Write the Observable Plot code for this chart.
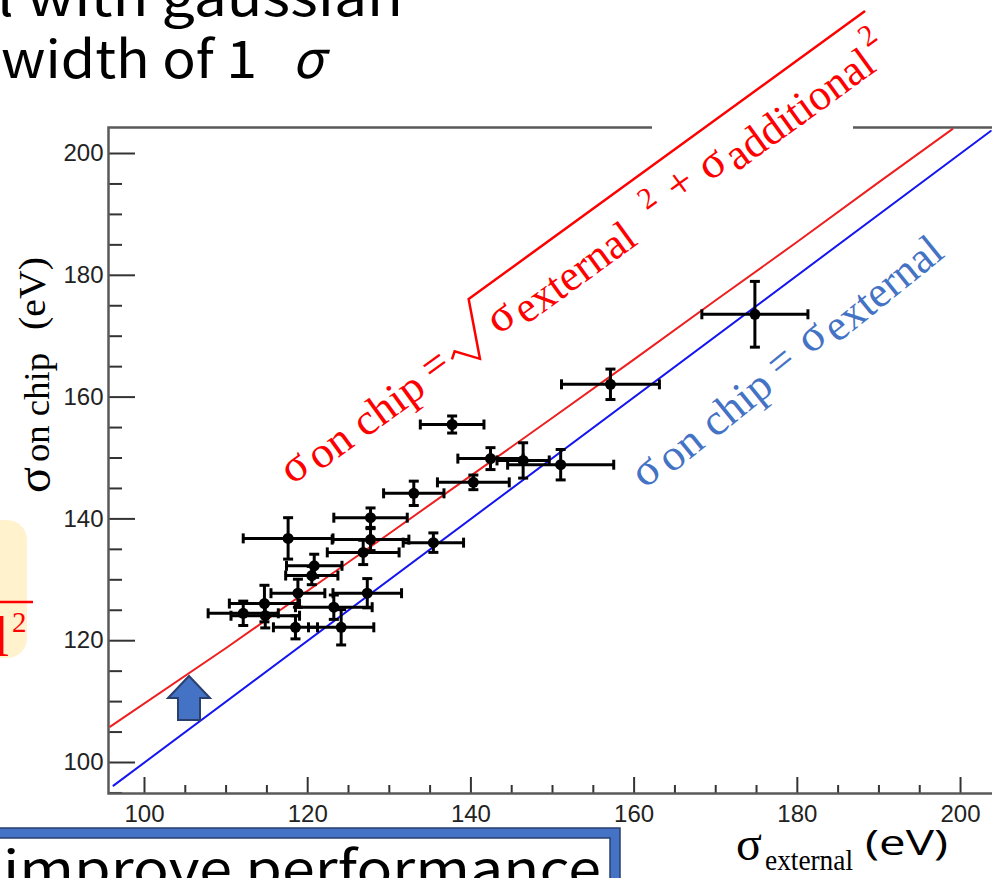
<!DOCTYPE html>
<html><head><meta charset="utf-8">
<script src="https://cdn.jsdelivr.net/npm/d3@7"></script>
<script src="https://cdn.jsdelivr.net/npm/@observablehq/plot@0.6"></script>
<style>
html,body{margin:0;padding:0;background:#fff;overflow:hidden;width:992px;height:878px;}
#chart{position:absolute;left:0;top:0;}
.ticklab{font-size:24px !important;font-family:'Liberation Sans',Arial,sans-serif !important;}
</style></head><body><div id="chart"></div>
<script>
// ---- data ----
const sigmaExternal = [174.8,157.1,137.7,142.4,146.4,151.0,140.3,133.0,127.7,127.7,117.6,135.4,126.8,120.8,120.5,118.8,127.3,123.2,114.7,112.1,114.8,118.5,124.1];
const sigmaOnChip   = [173.6,162.1,155.5,149.9,149.6,148.9,146.0,144.2,140.2,136.6,136.8,136.1,134.5,132.3,130.7,127.8,127.8,125.5,126.1,124.5,124.1,122.2,122.2];
const errExternal   = [6.5,6.0,3.9,4.0,3.2,6.5,4.4,3.7,4.5,4.7,5.5,3.7,4.4,3.4,3.2,3.3,4.2,4.7,4.3,4.3,4.2,2.7,4.0];
const errOnChip     = [5.4,2.5,1.4,1.8,2.9,2.5,1.2,2.0,1.6,1.8,3.4,1.6,2.0,1.9,1.5,2.3,2.4,2.0,3.0,2.0,2.0,1.9,2.9];
const equalLineX = [96.2, 203.7];
const equalLineY = [96.2, 203.7];
const quadLineX = [95.8,110,120,130,140,150,160,170,180,190,199];
const quadLineY = [105.9,118.8,128.2,137.6,147.1,156.6,166.2,175.9,185.5,195.3,204.0];
const xTicksMajor = [100,120,140,160,180,200];
const xTicksMinor = [105,110,115,125,130,135,145,150,155,165,170,175,185,190,195,205];
const yTicksMajor = [100,120,140,160,180,200];
const yTicksMinor = [95,105,110,115,125,130,135,145,150,155,165,170,175,185,190,195];

const points = sigmaExternal.map((x,i)=>({x, y: sigmaOnChip[i], ex: errExternal[i], ey: errOnChip[i]}));
const quad = quadLineX.map((x,i)=>({x, y: quadLineY[i]}));
const equal = equalLineX.map((x,i)=>({x, y: equalLineY[i]}));

const W = 1010, H = 878, mL = 108, mT = 127, mB = 85, mR = 5;
const fw = W - mL - mR, fh = H - mT - mB;
const capV = {draw(ctx, size){const r = Math.sqrt(size/Math.PI); ctx.moveTo(0,-r); ctx.lineTo(0,r);}};
const capH = {draw(ctx, size){const r = Math.sqrt(size/Math.PI); ctx.moveTo(-r,0); ctx.lineTo(r,0);}};
const tickCol = "#333";

const plot = Plot.plot({
  width: W, height: H, marginLeft: mL, marginTop: mT, marginBottom: mB, marginRight: mR,
  x: {domain: [95.59, 205.51]},
  y: {domain: [94.91, 204.27]},
  style: {background: "transparent", maxWidth: "none", fontFamily: "'Liberation Sans', Arial, sans-serif", color: "#222"},
  marks: [
    Plot.tickY(yTicksMajor, {y: d=>d, insetRight: fw-27, stroke: tickCol, strokeWidth: 2}),
    Plot.tickY(yTicksMinor, {y: d=>d, insetRight: fw-14, stroke: tickCol, strokeWidth: 2}),
    Plot.tickX(xTicksMajor, {x: d=>d, insetTop: fh-16, stroke: tickCol, strokeWidth: 2}),
    Plot.tickX(xTicksMinor, {x: d=>d, insetTop: fh-8, stroke: tickCol, strokeWidth: 2}),
    Plot.frame({stroke: "#5a5a5a", strokeWidth: 2.5}),
    Plot.axisY(yTicksMajor, {tickSize: 0, tickPadding: 5, fontSize: 24, label: null}),
    Plot.axisX(xTicksMajor, {tickSize: 0, tickPadding: 11, fontSize: 24, label: null}),
    Plot.line(quad, {x: "x", y: "y", stroke: "#ee1f1f", strokeWidth: 2}),
    Plot.line(equal, {x: "x", y: "y", stroke: "#1515f0", strokeWidth: 2}),
    Plot.link(points, {x1: d=>d.x-d.ex, x2: d=>d.x+d.ex, y1: "y", y2: "y", stroke: "#000", strokeWidth: 3}),
    Plot.link(points, {x1: "x", x2: "x", y1: d=>d.y-d.ey, y2: d=>d.y+d.ey, stroke: "#000", strokeWidth: 3}),
    Plot.dot(points, {x: d=>d.x-d.ex, y: "y", symbol: capV, r: 5, fill: "none", stroke: "#000", strokeWidth: 3}),
    Plot.dot(points, {x: d=>d.x+d.ex, y: "y", symbol: capV, r: 5, fill: "none", stroke: "#000", strokeWidth: 3}),
    Plot.dot(points, {x: "x", y: d=>d.y-d.ey, symbol: capH, r: 5, fill: "none", stroke: "#000", strokeWidth: 3}),
    Plot.dot(points, {x: "x", y: d=>d.y+d.ey, symbol: capH, r: 5, fill: "none", stroke: "#000", strokeWidth: 3}),
    Plot.dot(points, {x: "x", y: "y", r: 5.5, fill: "#000", stroke: "none"})
  ]
});
document.getElementById("chart").appendChild(plot);

const svg = d3.select(plot);
// the tick labels are the only texts so far
svg.selectAll("text").classed("ticklab", true);

// ---- annotations (slide overlay) ----
const serif = "'Liberation Serif', 'Times New Roman', serif";
const jp = "'Noto Sans CJK JP', 'Noto Sans', sans-serif";
const ov = svg.append("g").attr("text-anchor", "start");

// gap in top frame under formula text box
ov.append("rect").attr("x", 652).attr("y", 121).attr("width", 201).attr("height", 12).attr("fill", "#fff");

function pieces(g, list, color) {
  for (const p of list) {
    const t = g.append("text").attr("x", p.s).attr("y", p.t)
      .style("font-size", p.size + "px").attr("fill", color)
      .attr("font-family", p.font || serif).attr("text-anchor", "start").text(p.text);
    if (p.len) t.attr("textLength", p.len).attr("lengthAdjust", "spacingAndGlyphs");
    if (p.italic) t.attr("font-style", "italic");
  }
}

// red formula
const gR = ov.append("g").attr("transform", "translate(292.4,485.2) rotate(-36)");
pieces(gR, [
  {text: "σ", s: 0, t: 0, size: 46},
  {text: "on chip", s: 30, t: 5, size: 44, len: 134},
  {text: "=", s: 174, t: 0, size: 44, len: 24},
  {text: "σ", s: 255, t: 0, size: 46},
  {text: "external", s: 283, t: 8, size: 44, len: 140},
  {text: "2", s: 448, t: -14, size: 30},
  {text: "+", s: 478, t: -2, size: 44, len: 25},
  {text: "σ", s: 516, t: 0, size: 46},
  {text: "additional", s: 544, t: 8, size: 44, len: 174},
  {text: "2", s: 722, t: -16, size: 30}
], "#ff0000");
gR.append("path").attr("d", "M203,-8 L210,-13 L226,8 L252,-47 L742,-47")
  .attr("fill", "none").attr("stroke", "#ff0000").attr("stroke-width", 2.5);

// blue formula
const gB = ov.append("g").attr("transform", "translate(645,489.3) rotate(-39)");
pieces(gB, [
  {text: "σ", s: 0, t: 0, size: 46},
  {text: "on chip", s: 30, t: 5, size: 44, len: 134},
  {text: "=", s: 174, t: 0, size: 44, len: 24},
  {text: "σ", s: 213, t: 0, size: 46},
  {text: "external", s: 241, t: 8, size: 44, len: 140}
], "#4472c4");

// y axis title
const gY = ov.append("g").attr("transform", "translate(50,493) rotate(-90)");
pieces(gY, [
  {text: "σ", s: 0, t: 0, size: 48},
  {text: "on chip", s: 31, t: -1, size: 36, len: 109},
  {text: "(eV)", s: 163, t: -5, size: 38, len: 73}
], "#000");

// x axis title
pieces(ov, [
  {text: "σ", s: 736, t: 860, size: 48},
  {text: "external", s: 765, t: 870, size: 30, len: 88},
  {text: "(eV)", s: 865, t: 855, size: 34, len: 83, font: "'Open Sans', 'Noto Sans', sans-serif"}
], "#000");

// slide title text (top)
pieces(ov, [
  {text: "l with gaussian", s: -3, t: 16, size: 52, len: 406, font: jp},
  {text: "width of 1", s: 1, t: 78, size: 52, len: 256, font: jp},
  {text: "σ", s: 292, t: 78, size: 52, font: jp, italic: true}
], "#000");

// yellow formula box at left (cut off)
ov.append("rect").attr("x", -30).attr("y", 520).attr("width", 57).attr("height", 138).attr("rx", 20).attr("fill", "#fff2cc");
ov.append("line").attr("x1", 0).attr("x2", 33).attr("y1", 602).attr("y2", 602).attr("stroke", "#ff0000").attr("stroke-width", 2.5);
pieces(ov, [
  {text: "l", s: -7, t: 656, size: 58},
  {text: "2", s: 12, t: 632, size: 29}
], "#ff0000");

// blue up arrow
ov.append("path").attr("d", "M189,676 L210,698 L200,698 L200,720 L178,720 L178,698 L168,698 Z")
  .attr("fill", "#4472c4").attr("stroke", "#2a3f6e").attr("stroke-width", 2);

// bottom text box
ov.append("rect").attr("x", -10).attr("y", 828).attr("width", 630).attr("height", 80).attr("fill", "#4472c4").attr("stroke", "#2a3f6e").attr("stroke-width", 1.5);
ov.append("rect").attr("x", -10).attr("y", 838).attr("width", 620).attr("height", 70).attr("fill", "#fff").attr("stroke", "#2a3f6e").attr("stroke-width", 1.5);
pieces(ov, [
  {text: "improve performance", s: 3, t: 888, size: 52, len: 598, font: jp}
], "#000");
</script></body></html>
